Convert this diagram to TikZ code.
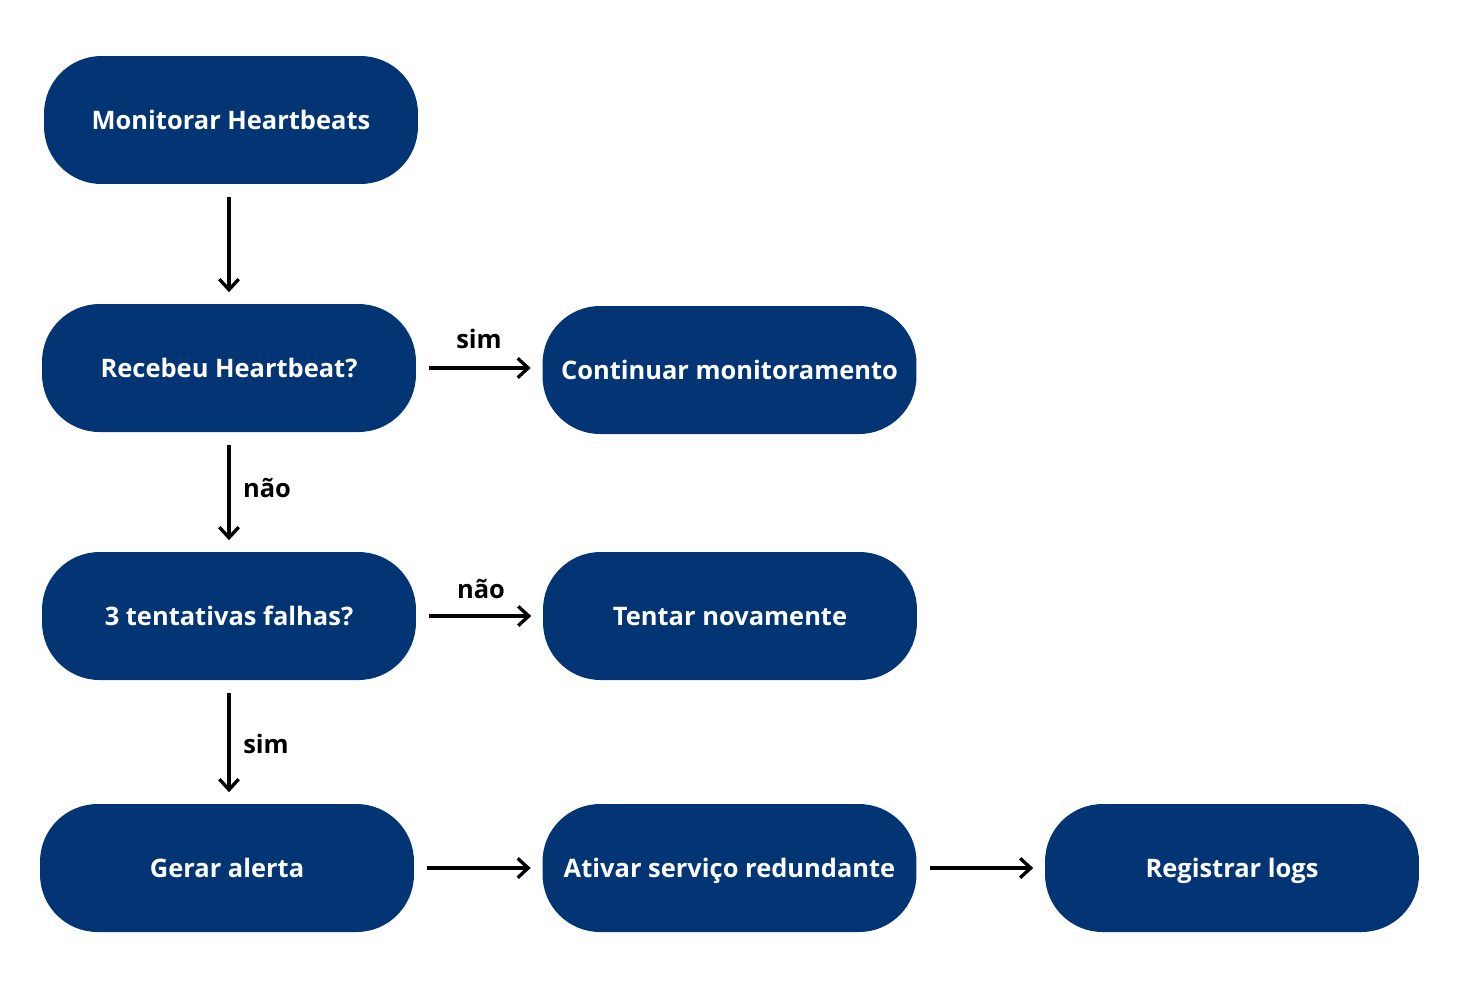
\documentclass[tikz,border=0pt]{standalone}
\usepackage{fontspec}
\setmainfont{Open Sans}
\usepackage{tikz}
\usetikzlibrary{arrows.meta}
\definecolor{navyblue}{RGB}{3,53,116}

\begin{document}
\begin{tikzpicture}[x=0.02cm, y=-0.02cm,
        box/.style={rectangle, rounded corners=1.15cm, fill=navyblue, text=white,
            minimum width=7.48cm, minimum height=2.56cm,
            text height=12.2pt, text depth=1.8pt,
            font=\fontsize{14.5}{17}\selectfont\bfseries},
        flow/.style={-{Straight Barb[length=6pt,width=11pt]}, line width=1.9pt,
            shorten <=0.26cm, shorten >=0.23cm},
        lbl/.style={font=\fontsize{14.5}{17}\selectfont\bfseries}]
    \useasboundingbox (0,0) rectangle (1476,995);
    % left column
    \node[box] (monitor) at (231,120) {Monitorar Heartbeats};
    \node[box] (recebeu) at (229,368) {Recebeu Heartbeat?};
    \node[box] (tentativas) at (229,616) {3 tentativas falhas?};
    \node[box] (alerta) at (227,868) {Gerar alerta};
    % right side
    \node[box] (continuar) at (729.5,370) {Continuar monitoramento};
    \node[box] (novamente) at (730,616) {Tentar novamente};
    \node[box] (redundante) at (729.5,868) {Ativar serviço redundante};
    \node[box] (logs) at (1232,868) {Registrar logs};

    \draw[flow] (recebeu.north |- monitor.south) -- (recebeu.north);
    \draw[flow] (recebeu.south) -- (tentativas.north);
    \draw[flow] (tentativas.south) -- (tentativas.south |- alerta.north);
    \draw[flow] (recebeu.east) -- (recebeu.east -| continuar.west);
    \draw[flow] (tentativas.east) -- (tentativas.east -| novamente.west);
    \draw[flow] (alerta.east) -- (alerta.east -| redundante.west);
    \draw[flow] (redundante.east) -- (redundante.east -| logs.west);

    \node[lbl] (simA) at (479,339) {sim};
    \node[lbl] (naoA) at (267,488) {não};
    \node[lbl] (naoB) at (481,589) {não};
    \node[lbl] (simB) at (266,744) {sim};
\end{tikzpicture}
\end{document}
